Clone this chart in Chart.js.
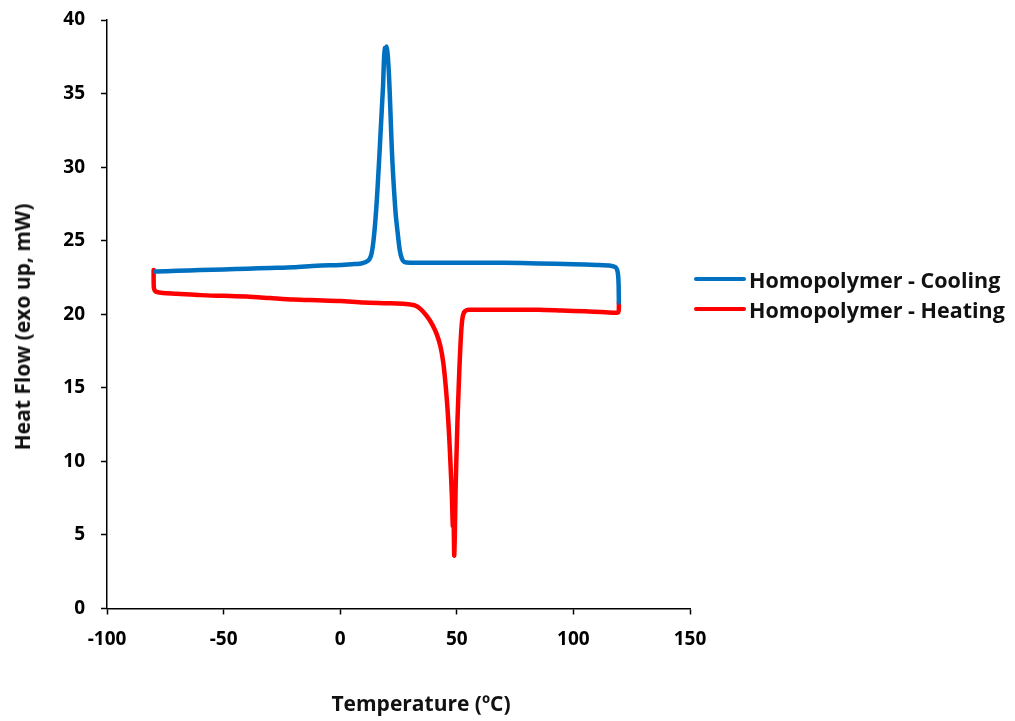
<!DOCTYPE html>
<html lang="en">
<head>
  <meta charset="UTF-8" />
  <title>DSC Homopolymer</title>
  <script src="https://cdn.jsdelivr.net/npm/chart.js"></script>
  <style>
    body {
      margin: 0;
      background: #fff;
      font-family: 'Open Sans', sans-serif;
    }

    .wrap {
      position: relative;
      width: 1015px;
      height: 721px;
    }

    .legend {
      position: absolute;
      left: 694px;
      top: 264px;
      font-weight: 700;
      font-size: 21.5px;
      color: #111;
    }

    .legend div {
      display: flex;
      align-items: center;
      height: 30px;
      white-space: nowrap;
    }

    .legend span.swatch {
      display: inline-block;
      width: 52px;
      height: 4px;
      border-radius: 2px;
      margin-right: 3px;
    }

    .axis-title {
      position: absolute;
      font-weight: 700;
      font-size: 21px;
      color: #111;
      white-space: nowrap;
      transform: translate(-50%, -50%);
    }

    #xTitle { left: 421px; top: 703px; }
    #yTitle { left: 22px; top: 327px; transform: translate(-50%, -50%) rotate(-90deg); }
  </style>
</head>
<body>
  <div class="wrap">
    <canvas id="dsc" width="1015" height="721"></canvas>
    <div class="legend" id="legend"></div>
    <div class="axis-title" id="xTitle">Temperature (ºC)</div>
    <div class="axis-title" id="yTitle">Heat Flow (exo up, mW)</div>
  </div>

  <script>
    // cooling run, 120 -> -80 °C
    const coolT = [119.5, 119.4, 119.2, 118.8, 118, 116, 110, 100, 85, 70, 55, 40, 30, 27.5, 26.5, 25.5, 24.6, 23.8, 23.1, 22.4, 21.9, 21.4, 20.9, 20.4, 20.0, 19.6, 19.2, 18.8, 18.4, 18.0, 17.4, 16.6, 15.8, 15.0, 14.2, 13.4, 12.4, 11, 9, 5, 0, -10, -20, -30, -40, -50, -60, -70, -79.2];
    const coolH = [20.8, 21.9, 22.6, 23.0, 23.2, 23.3, 23.35, 23.4, 23.45, 23.5, 23.5, 23.5, 23.5, 23.55, 23.75, 24.4, 25.6, 26.8, 28.4, 30.3, 32.2, 34.4, 36.3, 37.6, 38.2, 37.6, 38.1, 37.4, 35.6, 34.4, 32.6, 30.2, 28.0, 26.2, 24.9, 24.1, 23.7, 23.55, 23.45, 23.4, 23.35, 23.3, 23.2, 23.15, 23.1, 23.05, 23.0, 22.95, 22.9];

    // heating run, -80 -> 120 °C
    const heatT = [-80, -80, -79.9, -79.5, -78.5, -76, -70, -60, -50, -40, -30, -20, -10, 0, 10, 20, 28, 32, 34.5, 37, 39.5, 41.5, 43, 44.2, 45.2, 46, 46.7, 47.3, 47.9, 48.3, 48.6, 48.9, 49.2, 49.5, 49.9, 50.3, 50.8, 51.3, 51.8, 52.3, 52.8, 53.5, 55, 58, 65, 75, 85, 95, 105, 112, 117.5, 119.3, 119.5, 119.5];
    const heatH = [23.0, 22.3, 21.8, 21.6, 21.5, 21.45, 21.4, 21.3, 21.25, 21.2, 21.1, 21.0, 20.95, 20.9, 20.8, 20.75, 20.7, 20.6, 20.35, 19.9, 19.3, 18.6, 17.8, 16.7, 15.2, 13.6, 11.8, 9.8, 7.6, 5.6, 6.2, 3.6, 5.4, 8.2, 10.6, 12.8, 15.0, 17.0, 18.6, 19.6, 20.0, 20.2, 20.3, 20.3, 20.3, 20.3, 20.3, 20.25, 20.2, 20.15, 20.1, 20.15, 20.5, 20.8];

    const seriesNames = ['Homopolymer - Cooling', 'Homopolymer - Heating'];
    const seriesColors = ['#0070C0', '#FF0000'];

    const xTicks = [-100, -50, 0, 50, 100, 150];
    const yTicks = [0, 5, 10, 15, 20, 25, 30, 35, 40];

    const toPoints = (xs, ys) => xs.map((x, i) => ({ x: x, y: ys[i] }));

    const tickFont = { family: 'Open Sans', weight: 'bold', size: 19 };

    new Chart(document.getElementById('dsc'), {
      type: 'scatter',
      data: {
        datasets: [
          { label: seriesNames[0], data: toPoints(coolT, coolH), borderColor: seriesColors[0], backgroundColor: seriesColors[0] },
          { label: seriesNames[1], data: toPoints(heatT, heatH), borderColor: seriesColors[1], backgroundColor: seriesColors[1] }
        ]
      },
      options: {
        responsive: false,
        animation: false,
        showLine: true,
        layout: { padding: { top: 20, right: 325, left: 0, bottom: 0 } },
        elements: {
          point: { radius: 0, hoverRadius: 0 },
          line: { borderWidth: 4.5, tension: 0.25, borderCapStyle: 'round', borderJoinStyle: 'round' }
        },
        plugins: {
          legend: { display: false },
          tooltip: { enabled: false }
        },
        scales: {
          x: {
            type: 'linear',
            min: -100,
            max: 150,
            afterBuildTicks: s => { s.ticks = xTicks.map(v => ({ value: v })); },
            afterFit: s => { s.height = 112.5; s.paddingLeft = 0; s.paddingRight = 0; },
            grid: { drawOnChartArea: false, drawTicks: true, tickLength: 6, color: '#000', tickWidth: 1.5 },
            border: { color: '#000', width: 1.5 },
            ticks: { color: '#000', font: tickFont, padding: 14, maxRotation: 0 }
          },
          y: {
            type: 'linear',
            min: 0,
            max: 40,
            afterBuildTicks: s => { s.ticks = yTicks.map(v => ({ value: v })); },
            afterFit: s => { s.width = 107; s.paddingTop = 0; s.paddingBottom = 0; },
            grid: { drawOnChartArea: false, drawTicks: true, tickLength: 6, color: '#000', tickWidth: 1.5 },
            border: { color: '#000', width: 1.5 },
            ticks: { color: '#000', font: tickFont, padding: 16 }
          }
        }
      }
    });

    // legend as html, to the right of the plot
    const legend = document.getElementById('legend');
    seriesNames.forEach((name, i) => {
      const row = document.createElement('div');
      row.innerHTML = `<span class="swatch" style="background:${seriesColors[i]}"></span>${name}`;
      legend.appendChild(row);
    });
  </script>
</body>
</html>
